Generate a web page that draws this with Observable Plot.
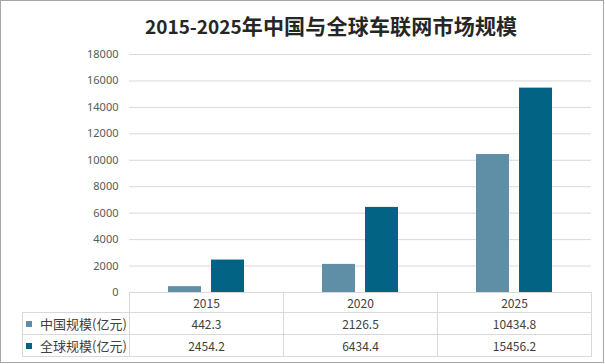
<!DOCTYPE html>
<html>
<head>
<meta charset="utf-8">
<script src="https://cdn.jsdelivr.net/npm/d3@7"></script>
<script src="https://cdn.jsdelivr.net/npm/@observablehq/plot@0.6"></script>
<style>
  html, body { margin: 0; padding: 0; background: #fff; }
  #chart { position: relative; width: 605px; height: 364px; background: #fff; overflow: hidden; }
  #frame { position: absolute; left: 0; top: 0; width: 604px; height: 363px; box-sizing: border-box; border: 1px solid #a6a6a6; pointer-events: none; }
  #title { position: absolute; left: 145px; top: 15px; white-space: nowrap; color: #262626; font-family: "Noto Sans CJK SC", sans-serif; font-weight: bold; line-height: 21px; }
  #title .num { font-size: 19px; }
  #title .cjk { font-size: 21px; letter-spacing: 0.2px; }
  #plot { position: absolute; left: 0; top: 0; }
  #table { position: absolute; left: 22px; top: 292px; display: grid; grid-template-columns: 108px 154px 154px 154px; grid-template-rows: 21px 22px 22px; font-family: "Noto Sans CJK SC", "Noto Sans", sans-serif; color: #404040; }
  .cell { box-sizing: border-box; border-right: 1px solid #d9d9d9; border-bottom: 1px solid #d9d9d9; display: flex; align-items: center; justify-content: center; font-size: 12px; }
  .cell.head { border-top: 1px solid #d9d9d9; }
  .cell.corner { border-top: none; }
  .cell.label { border-left: 1px solid #d9d9d9; justify-content: flex-start; padding-left: 3px; font-size: 13px; }
  .key { width: 6px; height: 6px; margin-right: 8px; flex: none; }
</style>
</head>
<body>
<div id="chart">
  <div id="title"><span class="num">2015-2025</span><span class="cjk">年中国与全球车联网市场规模</span></div>
  <div id="plot"></div>
  <div id="table"></div>
  <div id="frame"></div>
</div>
<script>
const years = ["2015", "2020", "2025"];
const seriesNames = ["中国规模(亿元)", "全球规模(亿元)"];
const chinaValues = [442.3, 2126.5, 10434.8];
const globalValues = [2454.2, 6434.4, 15456.2];
const yTicks = [0, 2000, 4000, 6000, 8000, 10000, 12000, 14000, 16000, 18000];
const seriesColors = ["#5e8fa7", "#026384"];
const seriesValues = [chinaValues, globalValues];

const data = years.flatMap((yr, i) => seriesNames.map((s, j) => ({year: yr, series: s, value: seriesValues[j][i]})));

const plot = Plot.plot({
  width: 605,
  height: 293,
  marginTop: 54,
  marginBottom: 1,
  marginLeft: 129,
  marginRight: 14,
  style: {fontFamily: "'Noto Sans', sans-serif", fontSize: "11px", color: "#595959", background: "transparent", overflow: "visible"},
  fx: {domain: years, padding: 0, axis: null},
  x: {domain: seriesNames, paddingInner: 10 / 44, paddingOuter: 0.864, axis: null},
  y: {domain: [0, 18000], axis: null},
  color: {domain: seriesNames, range: seriesColors},
  marks: [
    Plot.ruleY(yTicks.slice(1), {stroke: "#d9d9d9", strokeWidth: 1}),
    Plot.axisY({ticks: yTicks, tickSize: 0, tickPadding: 11, fontSize: 11, label: null, tickFormat: d => String(d)}),
    Plot.barY(data, {fx: "year", x: "series", y: "value", fill: "series"})
  ]
});
document.getElementById("plot").appendChild(plot);

const table = d3.select("#table");
table.append("div").attr("class", "cell corner");
years.forEach(yr => table.append("div").attr("class", "cell head").text(yr));
seriesNames.forEach((s, j) => {
  const lab = table.append("div").attr("class", "cell label");
  lab.append("span").attr("class", "key").style("background", seriesColors[j]);
  lab.append("span").text(s);
  seriesValues[j].forEach(v => table.append("div").attr("class", "cell").text(String(v)));
});
</script>
</body>
</html>
